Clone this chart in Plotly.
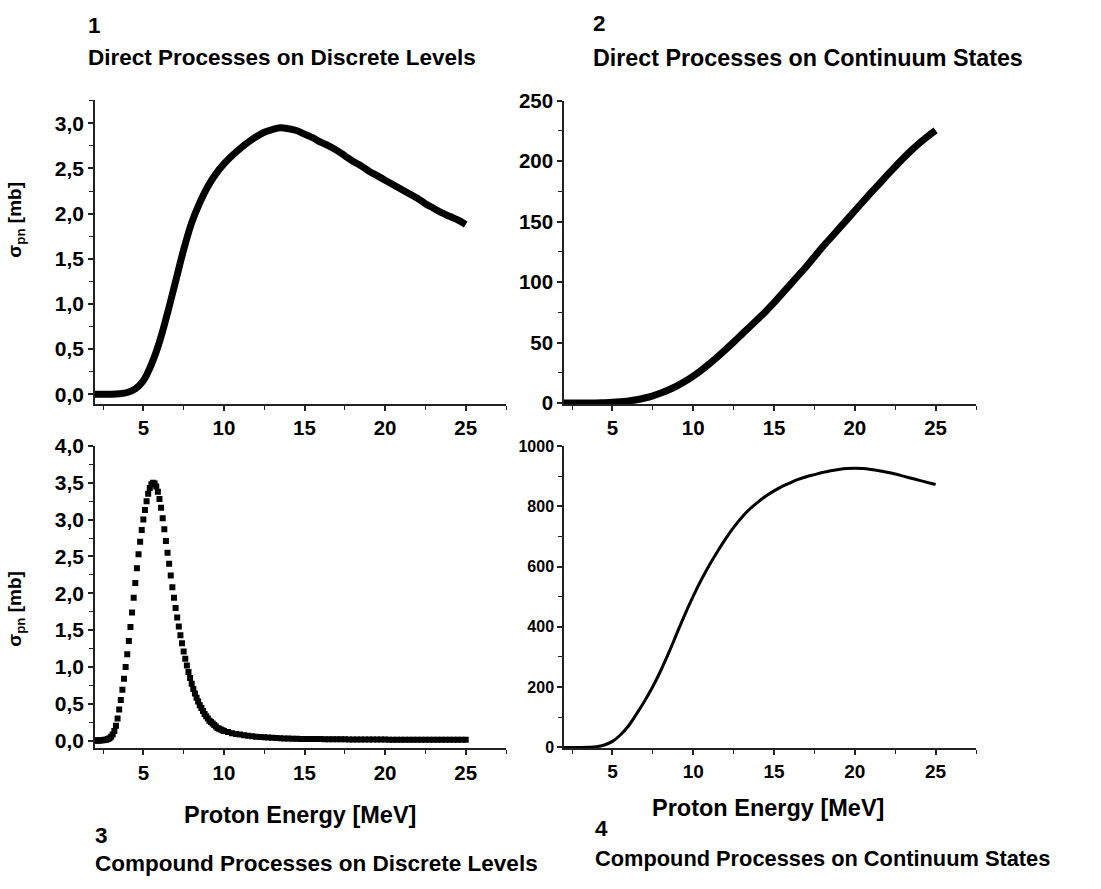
import numpy as np
import plotly.graph_objects as go

W, H = 1101, 889

# ---------------- data ----------------
energy_coarse = np.round(np.arange(2.0, 25.0001, 0.5), 2)   # 47 points
energy_peak = np.round(np.arange(2.0, 10.0001, 0.1), 2)     # 81 points
energy_tail = np.round(np.arange(10.25, 25.0001, 0.25), 2)  # 60 points

direct_discrete = [
    0.0, 0.0, 0.0, 0.005, 0.02, 0.06, 0.15, 0.33, 0.58, 0.9,
    1.25, 1.6, 1.9, 2.12, 2.3, 2.44, 2.55, 2.64, 2.72, 2.79,
    2.85, 2.9, 2.93, 2.95, 2.94, 2.92, 2.88, 2.84, 2.79, 2.75,
    2.7, 2.64, 2.58, 2.53, 2.47, 2.42, 2.37, 2.32, 2.27, 2.22,
    2.17, 2.11, 2.06, 2.01, 1.97, 1.93, 1.88,
]

direct_continuum = [
    0, 0, 0, 0, 0.1, 0.3, 0.6, 1.1, 1.8, 2.8,
    4.2, 6.0, 8.3, 11.0, 14.2, 18.0, 22.3, 27.2, 32.5, 38.2,
    44.2, 50.4, 56.8, 63.2, 69.5, 76.0, 83.0, 90.5, 98.0, 105.5,
    113, 121, 129, 136.5, 144, 151.5, 159, 166.5, 174, 181,
    188.5, 195.5, 202.5, 209, 215, 220.5, 225.5,
]

compound_discrete_peak = [
    0.0, 0.0, 0.0, 0.0, 0.005, 0.005, 0.01, 0.012, 0.02, 0.03,
    0.05, 0.08, 0.13, 0.2, 0.3, 0.42, 0.55, 0.69, 0.84, 1.0,
    1.17, 1.35, 1.54, 1.74, 1.94, 2.14, 2.34, 2.53, 2.7, 2.86,
    3.0, 3.13, 3.25, 3.35, 3.43, 3.48, 3.5, 3.49, 3.45, 3.38,
    3.28, 3.16, 3.02, 2.87, 2.71, 2.55, 2.4, 2.24, 2.08, 1.94,
    1.8, 1.67, 1.55, 1.43, 1.32, 1.21, 1.11, 1.02, 0.93, 0.85,
    0.77, 0.7, 0.64, 0.58, 0.53, 0.48, 0.44, 0.4, 0.36, 0.33,
    0.3, 0.27, 0.25, 0.23, 0.21, 0.19, 0.17, 0.16, 0.15, 0.14,
    0.13,
]

compound_discrete_tail = [
    0.115, 0.1, 0.09, 0.08, 0.072, 0.065, 0.058, 0.052, 0.047, 0.043,
    0.04, 0.037, 0.034, 0.031, 0.029, 0.027, 0.025, 0.023, 0.022, 0.021,
    0.02, 0.02, 0.019, 0.019, 0.018, 0.018, 0.017, 0.017, 0.016, 0.016,
    0.015, 0.015, 0.015, 0.014, 0.014, 0.014, 0.013, 0.013, 0.013, 0.013,
    0.012, 0.012, 0.012, 0.012, 0.012, 0.012, 0.011, 0.011, 0.011, 0.011,
    0.011, 0.01, 0.01, 0.01, 0.01, 0.01, 0.01, 0.01, 0.01, 0.01,
]

compound_continuum = [
    0, 0, 0, 0.5, 2, 8, 20, 42, 72, 112,
    155, 202, 256, 316, 380, 443, 502, 556, 605, 650,
    692, 730, 763, 791, 814, 834, 851, 866, 878, 889,
    898, 905, 912, 918, 922, 925, 926, 925, 922, 918,
    913, 907, 900, 893, 886, 879, 872,
]

panel_titles = [
    "Direct Processes on Discrete Levels",
    "Direct Processes on Continuum States",
    "Compound Processes on Discrete Levels",
    "Compound Processes on Continuum States",
]
x_title = "Proton Energy [MeV]"
y_title = "σ<sub>pn</sub> [mb]"

# ---------------- layout helpers ----------------
FONT = "Liberation Sans, Arial, sans-serif"
AX_COL = "#222222"


def fx(p):
    return p / W


def fy(p):
    return 1 - p / H


def xaxis(domain, anchor, size):
    return dict(
        domain=domain, anchor=anchor, range=[2, 27.5],
        tick0=0, dtick=5, ticks="outside", ticklen=5, tickwidth=1.5,
        tickcolor=AX_COL, showline=True, linecolor=AX_COL, linewidth=1.5,
        showgrid=False, zeroline=False,
        minor=dict(dtick=2.5, tick0=0, ticks="outside", ticklen=4,
                   tickwidth=1.2, tickcolor=AX_COL),
        tickfont=dict(family=FONT, size=size, color="black", weight="bold"),
    )


def yaxis(domain, anchor, rng, dtick, mdtick, size, fmt=None):
    d = dict(
        domain=domain, anchor=anchor, range=rng,
        tick0=0, dtick=dtick, ticks="outside", ticklen=5, tickwidth=1.5,
        tickcolor=AX_COL, showline=True, linecolor=AX_COL, linewidth=1.5,
        showgrid=False, zeroline=False,
        minor=dict(dtick=mdtick, tick0=0, ticks="outside", ticklen=4,
                   tickwidth=1.2, tickcolor=AX_COL),
        tickfont=dict(family=FONT, size=size, color="black", weight="bold"),
    )
    if fmt:
        d["tickformat"] = fmt
    return d


xL = [fx(95), fx(506)]
xR = [fx(564), fx(976)]
yT1 = [fy(402), fy(90)]
yT2 = [fy(402), fy(91)]
yB = [fy(755), fy(445)]

fig = go.Figure()

fig.add_trace(go.Scatter(
    x=energy_coarse, y=direct_discrete, mode="lines",
    line=dict(color="black", width=7, shape="spline"),
    xaxis="x", yaxis="y"))
fig.add_trace(go.Scatter(
    x=energy_coarse, y=direct_continuum, mode="lines",
    line=dict(color="black", width=7, shape="spline"),
    xaxis="x2", yaxis="y2"))
fig.add_trace(go.Scatter(
    x=list(energy_peak) + list(energy_tail),
    y=compound_discrete_peak + compound_discrete_tail, mode="markers",
    marker=dict(symbol="square", size=6, color="black", line=dict(width=0)),
    xaxis="x3", yaxis="y3"))
fig.add_trace(go.Scatter(
    x=energy_coarse, y=compound_continuum, mode="lines",
    line=dict(color="black", width=3, shape="spline"),
    xaxis="x4", yaxis="y4"))

ann = []


def text(x, y, s, size, xanchor="left", angle=0):
    ann.append(dict(
        x=fx(x), y=fy(y), xref="paper", yref="paper", text=s,
        showarrow=False, xanchor=xanchor, yanchor="middle", textangle=angle,
        font=dict(family=FONT, size=size, color="black", weight="bold")))


# panel numbers and titles
text(86, 14, "1", 22.5)
text(86, 47, panel_titles[0], 22.5)
text(591, 12, "2", 22.5)
text(591, 47, panel_titles[1], 23.3)
text(93, 844, "3", 22.5)
text(93, 873, panel_titles[2], 22.5)
text(593, 837, "4", 22.5)
text(593, 868, panel_titles[3], 21.8)

# axis titles
text(300, 823, x_title, 23.5, xanchor="center")
text(768, 816, x_title, 23.5, xanchor="center")
text(16, 213, y_title, 19, xanchor="center", angle=-90)
text(16, 612, y_title, 19, xanchor="center", angle=-90)

fig.update_layout(
    width=W, height=H, margin=dict(l=0, r=0, t=0, b=0),
    paper_bgcolor="white", plot_bgcolor="white",
    showlegend=False, separators=",.",
    xaxis=xaxis(xL, "y", 20.5),
    yaxis=yaxis(yT1, "x", [-0.108, 3.26], 0.5, 0.25, 21, ".1f"),
    xaxis2=xaxis(xR, "y2", 20.5),
    yaxis2=yaxis(yT2, "x2", [-0.8, 250], 50, 25, 20.5),
    xaxis3=xaxis(xL, "y3", 20.5),
    yaxis3=yaxis(yB, "x3", [-0.106, 4.0], 0.5, 0.25, 21, ".1f"),
    xaxis4=xaxis(xR, "y4", 19),
    yaxis4=yaxis(yB, "x4", [-3, 1000], 200, 100, 16),
    annotations=ann,
)

fig.write_html("out.html")
